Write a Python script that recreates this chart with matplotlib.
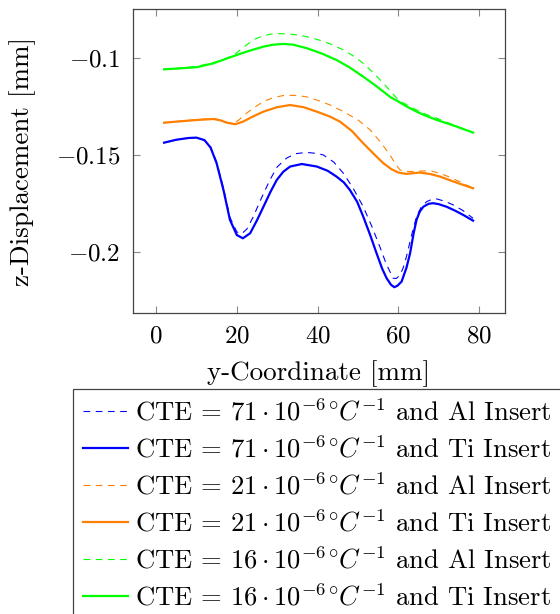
import matplotlib
matplotlib.use('Agg')
import matplotlib.pyplot as plt

plt.rcParams['font.family'] = 'serif'
plt.rcParams['font.serif'] = ['cmr10']
plt.rcParams['mathtext.fontset'] = 'cm'
plt.rcParams['axes.formatter.use_mathtext'] = True
plt.rcParams['axes.unicode_minus'] = True

# ---- data (y in mm, z in mm) ----
x_b_al = [2, 5, 8, 10, 12, 13.5, 15, 16.7, 18.3, 20, 21.2, 22.5, 24.1, 26, 28.2, 30, 32.3, 34.5,
          37.3, 39.5, 41.4, 44, 46.4, 48.8, 51.3, 53.5, 55.4, 57, 58.7, 59.5, 60.4, 61.2, 62,
          63.3, 64.5, 65.7, 67, 68.3, 69.5, 71.5, 73.6, 76, 78.5]
z_b_al = [-0.1435, -0.1420, -0.1411, -0.1409, -0.1422, -0.1458, -0.1535, -0.1670, -0.1820,
          -0.1895, -0.1905, -0.1880, -0.1816, -0.1725, -0.1627, -0.1560, -0.1515, -0.1492,
          -0.1485, -0.1490, -0.1498, -0.1535, -0.1593, -0.1670, -0.1765, -0.1870, -0.1971,
          -0.2060, -0.2134, -0.2135, -0.2117, -0.2080, -0.2022, -0.1910, -0.1816, -0.1765,
          -0.1739, -0.1727, -0.1725, -0.1737, -0.1756, -0.1785, -0.1825]

x_b_ti = [2, 5, 8, 10, 12, 13.5, 15, 16.7, 18.3, 20, 21.5, 23.3, 25, 26.6, 28.3, 29.9, 31.5,
          33.2, 36.1, 39.8, 42.5, 44.7, 46.5, 48, 49.8, 51.3, 53, 54.6, 56, 57.1, 58.2, 59,
          59.8, 60.8, 62, 62.9, 63.8, 64.5, 65.3, 66.2, 67.5, 68.6, 70, 71.9, 74, 76.1, 78.5]
z_b_ti = [-0.1435, -0.1420, -0.1411, -0.1409, -0.1422, -0.1460, -0.1541, -0.1679, -0.1833,
          -0.1911, -0.1928, -0.1902, -0.1835, -0.1765, -0.1690, -0.1627, -0.1585, -0.1558,
          -0.1545, -0.1558, -0.1580, -0.1610, -0.1640, -0.1679, -0.1740, -0.1816, -0.1910,
          -0.2005, -0.2085, -0.2134, -0.2168, -0.2180, -0.2172, -0.2151, -0.2080, -0.2005,
          -0.1900, -0.1833, -0.1790, -0.1765, -0.1750, -0.1747, -0.1752, -0.1765, -0.1785,
          -0.1808, -0.1837]

x_o_al = [2, 6, 10.1, 14.2, 16, 17.5, 19.1, 20.5, 22, 24, 26.6, 29, 31.5, 34.8, 37.5, 39.8,
          43, 46.4, 50, 53, 55.5, 57.9, 59.3, 60.4, 62, 63.7, 67.8, 70.5, 73, 78.5]
z_o_al = [-0.1332, -0.1324, -0.1316, -0.1311, -0.1318, -0.1330, -0.1336, -0.1318, -0.1290,
          -0.1258, -0.1223, -0.1203, -0.1192, -0.1191, -0.1200, -0.1215, -0.1240, -0.1275,
          -0.1318, -0.1369, -0.1430, -0.1498, -0.1545, -0.1576, -0.1583, -0.1584, -0.1579,
          -0.1595, -0.1615, -0.1670]

x_o_ti = [2, 6, 10.1, 14.2, 16, 17.5, 19.6, 21.6, 24, 26.6, 30, 33.2, 36.5, 39.8, 43, 45.5,
          48.5, 51.3, 54, 56.3, 58.3, 60, 62, 65.3, 68, 70.3, 74.4, 78.5]
z_o_ti = [-0.1332, -0.1325, -0.1318, -0.1313, -0.1320, -0.1332, -0.1340, -0.1326, -0.1300,
          -0.1275, -0.1252, -0.1241, -0.1252, -0.1275, -0.1300, -0.1326, -0.1375, -0.1438,
          -0.1495, -0.1541, -0.1572, -0.1589, -0.1596, -0.1589, -0.1597, -0.1610, -0.1641,
          -0.1670]

x_g_al = [2, 6, 10.1, 14.2, 17, 19.5, 20.8, 22.5, 24.1, 26, 28.2, 30.5, 33.2, 36.5, 39.8, 43,
          46.4, 49, 51.3, 53.8, 56.3, 58.3, 59.6, 61, 62.9, 66, 69.5, 72, 74.4, 78.5]
z_g_al = [-0.1057, -0.1050, -0.1042, -0.1022, -0.1005, -0.0980, -0.0957, -0.0930, -0.0905,
          -0.0888, -0.0876, -0.0873, -0.0875, -0.0885, -0.0902, -0.0925, -0.0957, -0.0990,
          -0.1026, -0.1075, -0.1129, -0.1175, -0.1206, -0.1228, -0.1249, -0.1282, -0.1309,
          -0.1330, -0.1350, -0.1383]

x_g_ti = [2, 6, 10.1, 14.2, 17, 20, 23, 26.6, 29, 31.5, 34, 37.3, 41, 44.7, 48, 51.3, 54,
          56.3, 58, 60, 62, 64.5, 67, 69.5, 72, 74.4, 76.5, 78.5]
z_g_ti = [-0.1057, -0.1052, -0.1046, -0.1026, -0.1005, -0.0983, -0.0962, -0.0940, -0.0930,
          -0.0926, -0.0930, -0.0948, -0.0975, -0.1009, -0.1048, -0.1095, -0.1135, -0.1172,
          -0.1200, -0.1223, -0.1248, -0.1275, -0.1298, -0.1318, -0.1335, -0.1352, -0.1368,
          -0.1383]

labels = [r'CTE = $71\cdot 10^{-6\circ}\!C^{-1}$ and Al Insert',
          r'CTE = $71\cdot 10^{-6\circ}\!C^{-1}$ and Ti Insert',
          r'CTE = $21\cdot 10^{-6\circ}\!C^{-1}$ and Al Insert',
          r'CTE = $21\cdot 10^{-6\circ}\!C^{-1}$ and Ti Insert',
          r'CTE = $16\cdot 10^{-6\circ}\!C^{-1}$ and Al Insert',
          r'CTE = $16\cdot 10^{-6\circ}\!C^{-1}$ and Ti Insert']

blue = '#0000ff'
orange = '#ff8000'
green = '#00ff00'

fig = plt.figure(figsize=(5.6, 6.14), dpi=100)
ax = fig.add_axes([133/560, 1-313/614, (505-133)/560, (313-9)/614])

dash = dict(lw=0.8, dashes=(6, 5))
solid = dict(lw=1.6)
ax.plot(x_b_al, z_b_al, color=blue, label=labels[0], **dash)
ax.plot(x_b_ti, z_b_ti, color=blue, label=labels[1], **solid)
ax.plot(x_o_al, z_o_al, color=orange, label=labels[2], **dash)
ax.plot(x_o_ti, z_o_ti, color=orange, label=labels[3], **solid)
ax.plot(x_g_al, z_g_al, color=green, label=labels[4], **dash)
ax.plot(x_g_ti, z_g_ti, color=green, label=labels[5], **solid)

ax.set_xlim(-5.7, 86.4)
ax.set_ylim(-0.2313, -0.0746)
ax.set_xticks([0, 20, 40, 60, 80])
ax.set_xticklabels(['$0$', '$20$', '$40$', '$60$', '$80$'])
ax.set_yticks([-0.2, -0.15, -0.1])
ax.set_yticklabels(['$-0.2$', '$-0.15$', '$-0.1$'])
ax.tick_params(direction='in', length=5, color='#888888', labelsize=18,
               top=True, right=True, pad=9)
for s in ax.spines.values():
    s.set_color('#444444')
    s.set_linewidth(0.9)

ax.set_xlabel('y-Coordinate [mm]', fontsize=19.5, labelpad=9)
ax.set_ylabel('z-Displacement [mm]', fontsize=19.5, labelpad=14)

leg = fig.legend(loc='upper left', bbox_to_anchor=(73/560, 1-389/614),
                 bbox_transform=fig.transFigure, fontsize=19.2, frameon=True,
                 fancybox=False, framealpha=1, edgecolor='#444444',
                 handlelength=1.7, handletextpad=0.27, labelspacing=0.38,
                 borderpad=0.37, borderaxespad=0)
leg.get_frame().set_linewidth(0.9)

fig.savefig('out.png', dpi=100)
